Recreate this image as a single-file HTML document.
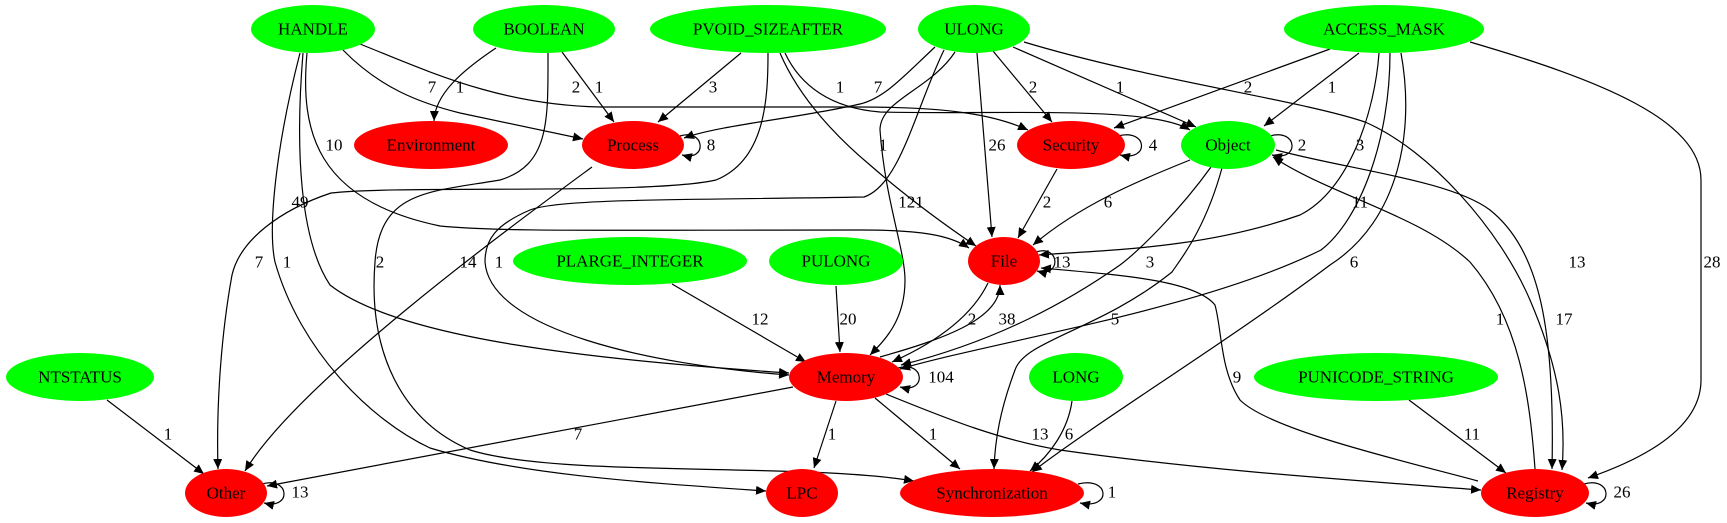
<!DOCTYPE html>
<html><head><meta charset="utf-8"><style>
html,body{margin:0;padding:0;background:#fff;}
svg{display:block;}
text{font-family:"Liberation Serif",serif;font-size:17px;fill:#000;}
.e{fill:none;stroke:#000;stroke-width:1.2;marker-end:url(#a);}
</style></head><body>
<svg width="1727" height="523" viewBox="0 0 1727 523" xmlns="http://www.w3.org/2000/svg">
<defs><marker id="a" markerWidth="11" markerHeight="9" refX="10" refY="4.5" orient="auto" markerUnits="userSpaceOnUse"><path d="M0,0 L10,4.5 L0,9z" fill="#000"/></marker></defs>

<!-- edges -->
<path class="e" d="M343,50 C380,88 420,103 460,113 L583,139"/>
<path class="e" d="M360,44 C430,72 500,105 600,107 L860,107 C950,107 995,115 1028,130"/>
<path class="e" d="M785,53 C800,85 830,108 880,112 C1000,115 1150,105 1190,130"/>
<path class="e" d="M496,48 C460,72 435,95 434,121"/>
<path class="e" d="M562,52 L614,122"/>
<path class="e" d="M741,53 L658,122"/>
<path class="e" d="M935,47 C905,75 885,98 860,104 C800,118 720,125 684,138"/>
<path class="e" d="M307,53 C300,130 315,200 440,226 C500,232 600,230 860,230 C920,230 950,235 969,248"/>
<path class="e" d="M303,53 C295,150 300,240 330,285 C400,340 600,360 789,373"/>
<path class="e" d="M768,53 C768,100 765,160 716,180 C650,195 400,185 331,193 C280,210 240,240 232,275 C222,330 216,400 218,469"/>
<path class="e" d="M300,53 C275,150 268,230 275,262 C300,350 370,420 430,448 C520,475 650,483 766,491"/>
<path class="e" d="M548,53 C548,120 550,165 500,180 C430,192 380,190 375,262 C368,350 400,420 470,450 C560,478 800,462 914,481"/>
<path class="e" d="M592,167 C520,220 300,380 245,471"/>
<path class="e" d="M944,50 C915,110 900,185 864,197 C700,200 560,198 530,210 C495,225 485,240 485,262 C490,330 650,365 789,375"/>
<path class="e" d="M955,52 C930,90 880,100 880,130 C885,200 905,250 905,280 C905,320 885,340 870,355"/>
<path class="e" d="M780,53 C800,100 840,140 870,165 C910,200 945,225 976,246"/>
<path class="e" d="M977,53 L992,237"/>
<path class="e" d="M993,51 L1052,122"/>
<path class="e" d="M1013,47 L1196,127"/>
<path class="e" d="M1024,42 C1150,80 1300,100 1365,122 C1430,150 1500,230 1530,300 C1560,370 1566,420 1562,470"/>
<path class="e" d="M1330,49 L1114,128"/>
<path class="e" d="M1359,53 L1264,126"/>
<path class="e" d="M1379,53 C1375,110 1350,190 1300,215 C1200,250 1100,250 1039,255"/>
<path class="e" d="M1390,53 C1390,140 1360,220 1321,250 C1200,310 1000,340 900,369"/>
<path class="e" d="M1401,53 C1415,130 1400,220 1330,265 C1230,340 1100,420 1032,472"/>
<path class="e" d="M1470,42 C1600,80 1701,120 1701,180 L1701,380 C1701,430 1640,460 1588,478"/>
<path class="e" d="M1057,169 L1018,238"/>
<path class="e" d="M1190,160 C1140,180 1080,205 1033,245"/>
<path class="e" d="M1211,167 C1180,210 1140,250 1120,265 C1070,300 1000,340 901,365"/>
<path class="e" d="M1222,168 C1205,230 1180,260 1172,272 C1100,330 1025,340 1015,370 C1000,410 995,440 994,469"/>
<path class="e" d="M988,283 C970,320 930,345 892,362"/>
<path class="e" d="M880,357 C940,340 1000,320 1000,285"/>
<path class="e" d="M672,284 L806,362"/>
<path class="e" d="M836,286 L840,352"/>
<path class="e" d="M107,400 L204,474"/>
<path class="e" d="M793,387 L267,486"/>
<path class="e" d="M836,401 L814,468"/>
<path class="e" d="M875,398 L960,469"/>
<path class="e" d="M886,394 C950,420 1000,440 1060,450 C1200,470 1350,480 1481,490"/>
<path class="e" d="M1072,401 C1068,430 1050,455 1030,471"/>
<path class="e" d="M1409,400 L1506,473"/>
<path class="e" d="M1478,481 C1400,460 1270,430 1240,400 C1220,370 1222,330 1215,305 C1195,280 1120,275 1041,268"/>
<path class="e" d="M1535,469 C1530,400 1520,320 1470,262 C1420,215 1330,195 1273,157"/>
<path class="e" d="M1276,150 C1350,170 1450,180 1490,210 C1540,250 1555,330 1552,469"/>
<!-- self loops -->
<path class="e" d="M680,136 C705,128 708,162 682,155"/>
<path class="e" d="M1118,136 C1148,128 1150,162 1120,155"/>
<path class="e" d="M1270,136 C1298,128 1300,162 1272,155"/>
<path class="e" d="M1036,252 C1060,244 1062,278 1037,271"/>
<path class="e" d="M898,368 C925,360 927,394 900,387"/>
<path class="e" d="M262,484 C290,476 292,510 264,503"/>
<path class="e" d="M1078,484 C1110,476 1112,510 1080,503"/>
<path class="e" d="M1584,484 C1612,476 1614,510 1586,503"/>

<!-- nodes -->
<g>
<ellipse cx="313" cy="29" rx="62" ry="24" fill="#00ff00"/>
<ellipse cx="544" cy="29" rx="71" ry="24" fill="#00ff00"/>
<ellipse cx="768" cy="29" rx="118" ry="24" fill="#00ff00"/>
<ellipse cx="974" cy="29" rx="56" ry="24" fill="#00ff00"/>
<ellipse cx="1384" cy="29" rx="100" ry="24" fill="#00ff00"/>
<ellipse cx="431" cy="145" rx="77" ry="24" fill="#ff0000"/>
<ellipse cx="633" cy="145" rx="51" ry="24" fill="#ff0000"/>
<ellipse cx="1071" cy="145" rx="54" ry="24" fill="#ff0000"/>
<ellipse cx="1228" cy="145" rx="47" ry="24" fill="#00ff00"/>
<ellipse cx="630" cy="261" rx="117" ry="24" fill="#00ff00"/>
<ellipse cx="836" cy="261" rx="67" ry="24" fill="#00ff00"/>
<ellipse cx="1004" cy="261" rx="36" ry="24" fill="#ff0000"/>
<ellipse cx="80" cy="377" rx="74" ry="24" fill="#00ff00"/>
<ellipse cx="846" cy="377" rx="57" ry="24" fill="#ff0000"/>
<ellipse cx="1076" cy="377" rx="47" ry="24" fill="#00ff00"/>
<ellipse cx="1376" cy="377" rx="122" ry="24" fill="#00ff00"/>
<ellipse cx="226" cy="493" rx="41" ry="24" fill="#ff0000"/>
<ellipse cx="802" cy="493" rx="36" ry="24" fill="#ff0000"/>
<ellipse cx="992" cy="493" rx="92" ry="24" fill="#ff0000"/>
<ellipse cx="1535" cy="493" rx="54" ry="24" fill="#ff0000"/>
</g>
<g text-anchor="middle" dominant-baseline="central">
<text x="313" y="29">HANDLE</text>
<text x="544" y="29">BOOLEAN</text>
<text x="768" y="29">PVOID_SIZEAFTER</text>
<text x="974" y="29">ULONG</text>
<text x="1384" y="29">ACCESS_MASK</text>
<text x="431" y="145">Environment</text>
<text x="633" y="145">Process</text>
<text x="1071" y="145">Security</text>
<text x="1228" y="145">Object</text>
<text x="630" y="261">PLARGE_INTEGER</text>
<text x="836" y="261">PULONG</text>
<text x="1004" y="261">File</text>
<text x="80" y="377">NTSTATUS</text>
<text x="846" y="377">Memory</text>
<text x="1076" y="377">LONG</text>
<text x="1376" y="377">PUNICODE_STRING</text>
<text x="226" y="493">Other</text>
<text x="802" y="493">LPC</text>
<text x="992" y="493">Synchronization</text>
<text x="1535" y="493">Registry</text>
</g>
<!-- edge labels -->
<g text-anchor="middle" dominant-baseline="central">
<text x="432" y="87">7</text><text x="460" y="87">1</text><text x="576" y="87">2</text><text x="599" y="87">1</text>
<text x="713" y="87">3</text><text x="840" y="87">1</text><text x="878" y="87">7</text><text x="1033" y="87">2</text>
<text x="1120" y="87">1</text><text x="1248" y="87">2</text><text x="1332" y="87">1</text>
<text x="334" y="145">10</text><text x="711" y="145">8</text><text x="883" y="145">1</text><text x="997" y="145">26</text>
<text x="1153" y="145">4</text><text x="1302" y="145">2</text><text x="1360" y="145">3</text>
<text x="300" y="202">49</text><text x="911" y="202">121</text><text x="1047" y="202">2</text><text x="1108" y="202">6</text><text x="1360" y="202">11</text>
<text x="259" y="262">7</text><text x="287" y="262">1</text><text x="380" y="262">2</text><text x="468" y="262">14</text><text x="499" y="262">1</text>
<text x="1062" y="262">13</text><text x="1150" y="262">3</text><text x="1354" y="262">6</text><text x="1577" y="262">13</text><text x="1712" y="262">28</text>
<text x="760" y="319">12</text><text x="848" y="319">20</text><text x="972" y="319">2</text><text x="1007" y="319">38</text><text x="1115" y="319">5</text><text x="1500" y="319">1</text><text x="1564" y="319">17</text>
<text x="941" y="377">104</text><text x="1237" y="377">9</text>
<text x="168" y="434">1</text><text x="578" y="434">7</text><text x="832" y="434">1</text><text x="933" y="434">1</text><text x="1040" y="434">13</text><text x="1069" y="434">6</text><text x="1472" y="434">11</text>
<text x="300" y="492">13</text><text x="1112" y="492">1</text><text x="1622" y="492">26</text>
</g>
</svg>
</body></html>
